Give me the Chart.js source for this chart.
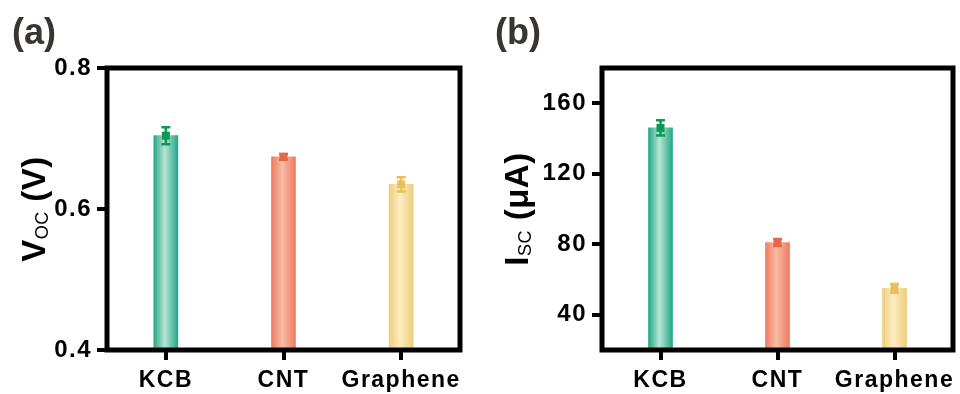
<!DOCTYPE html>
<html>
<head>
<meta charset="utf-8">
<script src="https://cdn.jsdelivr.net/npm/chart.js@4"></script>
<style>
  body { margin: 0; background: #fff; }
  #wrap { display: flex; width: 960px; height: 394px; }
  canvas { display: block; }
</style>
</head>
<body>
<div id="wrap">
  <canvas id="vocChart" width="480" height="394"></canvas>
  <canvas id="iscChart" width="480" height="394"></canvas>
</div>
<script>
// samples
const categories = ['KCB', 'CNT', 'Graphene'];

// open-circuit voltage (V)
const vocValues = [0.704, 0.674, 0.635];
const vocErrors = [0.012, 0.004, 0.010];
const vocTicks = [0.4, 0.6, 0.8];

// short-circuit current (µA)
const iscValues = [146, 81, 55];
const iscErrors = [4.3, 2, 2.5];
const iscTicks = [40, 80, 120, 160];

// bar colours: edge / centre of the cylinder shading, and error bar colour
const barEdge = ['#22a887', '#ee7c61', '#f0cd7b'];
const barCenter = ['#b9e5d5', '#f8bca5', '#fcedc2'];
const errColor = ['#0b9a55', '#e4694b', '#e8c15f'];

const FONT = "'Liberation Sans', Arial, Helvetica, sans-serif";

function barGradient(ctx) {
    const chart = ctx.chart;
    const i = ctx.dataIndex;
    const xs = chart.scales.x;
    if (!xs || !chart.chartArea || i === undefined) return barEdge[0];
    const cx = xs.getPixelForValue(i);
    const g = chart.ctx.createLinearGradient(cx - 12, 0, cx + 12, 0);
    g.addColorStop(0, barEdge[i]);
    g.addColorStop(0.45, barCenter[i]);
    g.addColorStop(1, barEdge[i]);
    return g;
}

// error bars, frame, axis title and panel letter
function decorations(errors, panel, mainTitle, subTitle, unitTitle, titleX) {
    return {
        id: 'decor',
        beforeDraw(chart) {
            chart.ctx.letterSpacing = '1.5px';
        },
        afterDatasetsDraw(chart) {
            const ctx = chart.ctx;
            const xs = chart.scales.x;
            const ys = chart.scales.y;
            const values = chart.data.datasets[0].data;
            ctx.save();
            ctx.letterSpacing = '0px';
            values.forEach((v, i) => {
                const x = xs.getPixelForValue(i);
                const yTop = ys.getPixelForValue(v + errors[i]);
                const yBot = ys.getPixelForValue(v - errors[i]);
                const y = ys.getPixelForValue(v);
                ctx.strokeStyle = errColor[i];
                ctx.fillStyle = errColor[i];
                ctx.lineWidth = 2.5;
                ctx.beginPath();
                ctx.moveTo(x, yTop); ctx.lineTo(x, yBot);
                ctx.moveTo(x - 4.5, yTop); ctx.lineTo(x + 4.5, yTop);
                ctx.moveTo(x - 4.5, yBot); ctx.lineTo(x + 4.5, yBot);
                ctx.stroke();
                ctx.fillRect(x - 4, y - 4, 8, 8);
            });

            // closed frame round the plot area
            const a = chart.chartArea;
            ctx.strokeStyle = '#000';
            ctx.lineWidth = 5;
            ctx.strokeRect(a.left, a.top, a.right - a.left, a.bottom - a.top);

            // y axis title with subscript
            const cy = (a.top + a.bottom) / 2;
            ctx.translate(titleX, cy);
            ctx.rotate(-Math.PI / 2);
            ctx.fillStyle = '#000';
            ctx.textBaseline = 'alphabetic';
            ctx.textAlign = 'left';
            ctx.letterSpacing = '0.5px';
            const big = 'bold 33px ' + FONT;
            const small = '18px ' + FONT;
            ctx.font = big;
            const w1 = ctx.measureText(mainTitle).width;
            const w3 = ctx.measureText(unitTitle).width;
            ctx.font = small;
            const w2 = ctx.measureText(subTitle).width;
            let px = -(w1 + w2 + w3) / 2;
            ctx.font = big;
            ctx.fillText(mainTitle, px, 0);
            px += w1;
            ctx.font = small;
            ctx.fillText(subTitle, px, 3);
            px += w2;
            ctx.font = big;
            ctx.fillText(unitTitle, px, 0);
            ctx.restore();

            // panel letter
            ctx.save();
            ctx.letterSpacing = '0px';
            ctx.fillStyle = '#3a3432';
            ctx.font = 'bold 36px ' + FONT;
            ctx.textAlign = 'left';
            ctx.textBaseline = 'alphabetic';
            ctx.fillText(panel.text, panel.x, 44);
            ctx.restore();
        }
    };
}

function makeChart(id, values, errors, ticks, yMin, yMax, yWidth, rightPad, fmt, decor) {
    const axisGrid = {
        offset: false,
        drawOnChartArea: false,
        drawTicks: true,
        tickLength: 10,
        lineWidth: 4,
        tickWidth: 4,
        color: '#000',
        tickColor: '#000'
    };
    return new Chart(document.getElementById(id), {
        type: 'bar',
        data: {
            labels: categories,
            datasets: [{
                data: values,
                backgroundColor: barGradient,
                borderWidth: 0,
                barThickness: 24
            }]
        },
        options: {
            responsive: false,
            animation: false,
            layout: { padding: { top: 68, right: rightPad, bottom: 0, left: 0 } },
            plugins: {
                legend: { display: false },
                tooltip: { enabled: false }
            },
            scales: {
                x: {
                    offset: true,
                    grid: axisGrid,
                    border: { display: false },
                    ticks: {
                        color: '#000',
                        font: { family: FONT, size: 23, weight: 'bold' },
                        padding: 7,
                        maxRotation: 0,
                        autoSkip: false
                    },
                    afterFit: s => { s.height = 44; }
                },
                y: {
                    min: yMin,
                    max: yMax,
                    grid: axisGrid,
                    border: { display: false },
                    ticks: {
                        color: '#000',
                        font: { family: FONT, size: 24, weight: 'bold' },
                        padding: 5,
                        callback: fmt
                    },
                    afterBuildTicks: s => { s.ticks = ticks.map(v => ({ value: v })); },
                    afterFit: s => { s.width = yWidth; }
                }
            }
        },
        plugins: [decor]
    });
}

makeChart('vocChart', vocValues, vocErrors, vocTicks, 0.4, 0.8, 107, 20,
    v => v.toFixed(1),
    decorations(vocErrors, { text: '(a)', x: 12 }, 'V', 'OC', ' (V)', 45));

makeChart('iscChart', iscValues, iscErrors, iscTicks, 20, 180, 122, 7,
    v => String(v),
    decorations(iscErrors, { text: '(b)', x: 15 }, 'I', 'SC', ' (μA)', 48));
</script>
</body>
</html>
